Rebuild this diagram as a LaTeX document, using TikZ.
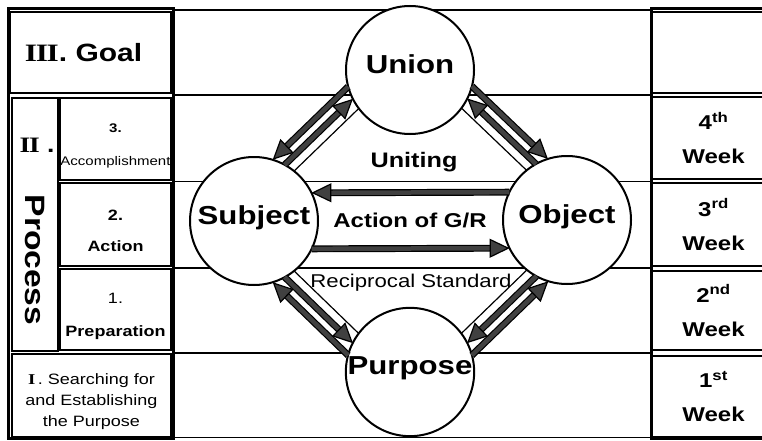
\documentclass[tikz,border=0pt]{standalone}
\usepackage{fontspec}
\setmainfont{Liberation Sans}[FakeStretch=1.2]
\newfontfamily\romanNum{Liberation Serif}[FakeStretch=1.25]
\usetikzlibrary{positioning,calc,arrows.meta}
\newcommand{\rn}[1]{{\romanNum\bfseries #1}}
\newcommand{\rnOne}{\rn{I}}
\newcommand{\rnTwo}{\rn{I\kern-1.2ptI}}
\newcommand{\rnThree}{\rn{I\kern-1.2ptI\kern-1.2ptI}}
\newcommand{\linkPair}[4]{\draw[thinLink] ($(#1)!8pt!-90:(#2)$) -- ($(#2)!8pt!90:(#1)$);
	\draw[bigArrow,#3,shorten <=56pt,shorten >=56pt] ($(#1)!31pt!-90:(#2)$) -- ($(#2)!31pt!90:(#1)$);
	\draw[bigArrow,#4,shorten <=61pt,shorten >=61pt] ($(#1)!19pt!-90:(#2)$) -- ($(#2)!19pt!90:(#1)$);}
\tikzset{
	cell/.style={draw, line width=2.5pt, inner sep=0pt, align=center},
	cellText/.style={align=center, inner sep=0pt},
	circ/.style={circle, draw, line width=2pt, fill=white, minimum size=128pt, inner sep=0pt,
		text depth=12pt, font=\bfseries\fontsize{26}{30}\selectfont},
	rowline/.style={line width=1.2pt},
	thinLink/.style={line width=1.2pt, shorten <=63.5pt, shorten >=63.5pt},
	bigArrow/.style={draw=black, line width=1.2pt, double=black!75, double distance=4.5pt},
	headB/.style={-{Triangle[length=20pt,width=19pt,color=black,fill=black!75,line width=1.2pt]}},
	headA/.style={{Triangle[length=20pt,width=19pt,color=black,fill=black!75,line width=1.2pt]}-},
	weekText/.style={font=\bfseries\fontsize{20}{34}\selectfont},
}
\begin{document}
\begin{tikzpicture}[x=1pt, y=1pt]
	\useasboundingbox (0,0) rectangle (762,440);
	\clip (0,0) rectangle (762,440);
	% table rows
	\draw[rowline] (172,430) -- (651,430);
	\draw[rowline] (172,345) -- (651,345);
	\draw[rowline] (172,258.5) -- (651,258.5);
	\draw[rowline] (172,172) -- (651,172);
	\draw[rowline] (172,87) -- (651,87);
	\draw[rowline] (172,2.5) -- (651,2.5);
	\draw[line width=3pt] (8.5,1.5) rectangle (173,431);
	\draw[line width=3pt] (770,431) -- (651,431) -- (651,1.5) -- (770,1.5);

	% left column
	\node[cell, minimum width=161pt, minimum height=81pt, font=\bfseries\fontsize{25}{30}\selectfont]
		(goal) at (90.5,387.5) {\rnThree. Goal\hspace*{14pt}};
	\node[cell, minimum width=46pt, minimum height=253pt] (process) at (35,215.5) {};
	\node[font=\bfseries\fontsize{22}{26}\selectfont] (procNum) at (37,295) {\rnTwo\,\,.};
	\node[rotate=-90, font=\bfseries\fontsize{28}{30}\selectfont] (procWord) at (35,180) {Process};
	\node[cell, minimum width=111pt, minimum height=82pt] (accomp) at (115.5,301) {};
	\node[cellText, font=\fontsize{12.5}{33}\selectfont, below=27pt of accomp.north]
		(accompText) {\textbf{3.}\\Accomplishment};
	\node[cell, minimum width=111pt, minimum height=83pt] (action) at (115.5,215.5) {};
	\node[cellText, font=\bfseries\fontsize{15}{31}\selectfont, below=28pt of action.north]
		(actionText) {2.\\Action};
	\node[cell, minimum width=111pt, minimum height=81pt] (prep) at (115.5,130.5) {};
	\node[cellText, font=\bfseries\fontsize{15}{33}\selectfont, below=25.5pt of prep.north]
		(prepText) {\mdseries 1.\\Preparation};
	\node[cell, minimum width=159pt, minimum height=83pt] (search) at (91.5,44.5) {};
	\node[cellText, font=\fontsize{15}{21}\selectfont, below=21pt of search.north]
		(searchText) {\rnOne\,. Searching for\\and Establishing\\the Purpose};

	% right column
	\node[cell, minimum width=123pt, minimum height=81pt] (weekTop) at (713.5,387.5) {};
	\node[cell, weekText, minimum width=123pt, minimum height=82pt] (week4) at (713.5,302) {4\textsuperscript{th}\\Week};
	\node[cell, weekText, minimum width=123pt, minimum height=83pt] (week3) at (713.5,215.5) {3\textsuperscript{rd}\\Week};
	\node[cell, weekText, minimum width=123pt, minimum height=79pt] (week2) at (713.5,129.5) {2\textsuperscript{nd}\\Week};
	\node[cell, weekText, minimum width=123pt, minimum height=81pt] (week1) at (713.5,43.5) {1\textsuperscript{st}\\Week};

	% circles
	\node[circ] (union) at (410,370) {Union};
	\node[circ] (subject) at (254,219) {Subject};
	\node[circ] (object) at (567,220) {Object};
	\node[circ] (purpose) at (410,68) {Purpose};

	\linkPair{union}{subject}{headB}{headA}
	\linkPair{object}{union}{headA}{headB}
	\linkPair{subject}{purpose}{headA}{headB}
	\linkPair{purpose}{object}{headB}{headA}
	\draw[bigArrow,headB,shorten <=57.5pt,shorten >=57.5pt] ($(object)!28pt!-90:(subject)$) -- ($(subject)!28pt!90:(object)$);
	\draw[bigArrow,headB,shorten <=57.5pt,shorten >=57.5pt] ($(subject)!28pt!-90:(object)$) -- ($(object)!28pt!90:(subject)$);

	\node[font=\bfseries\fontsize{21}{25}\selectfont] (uniting) at (414,278) {Uniting};
	\node[font=\bfseries\fontsize{20}{24}\selectfont] (actionGR) at (410,220) {Action of G/R};
	\node[font=\fontsize{18.5}{22}\selectfont] (reciprocal) at (411,157) {Reciprocal Standard};
\end{tikzpicture}
\end{document}
